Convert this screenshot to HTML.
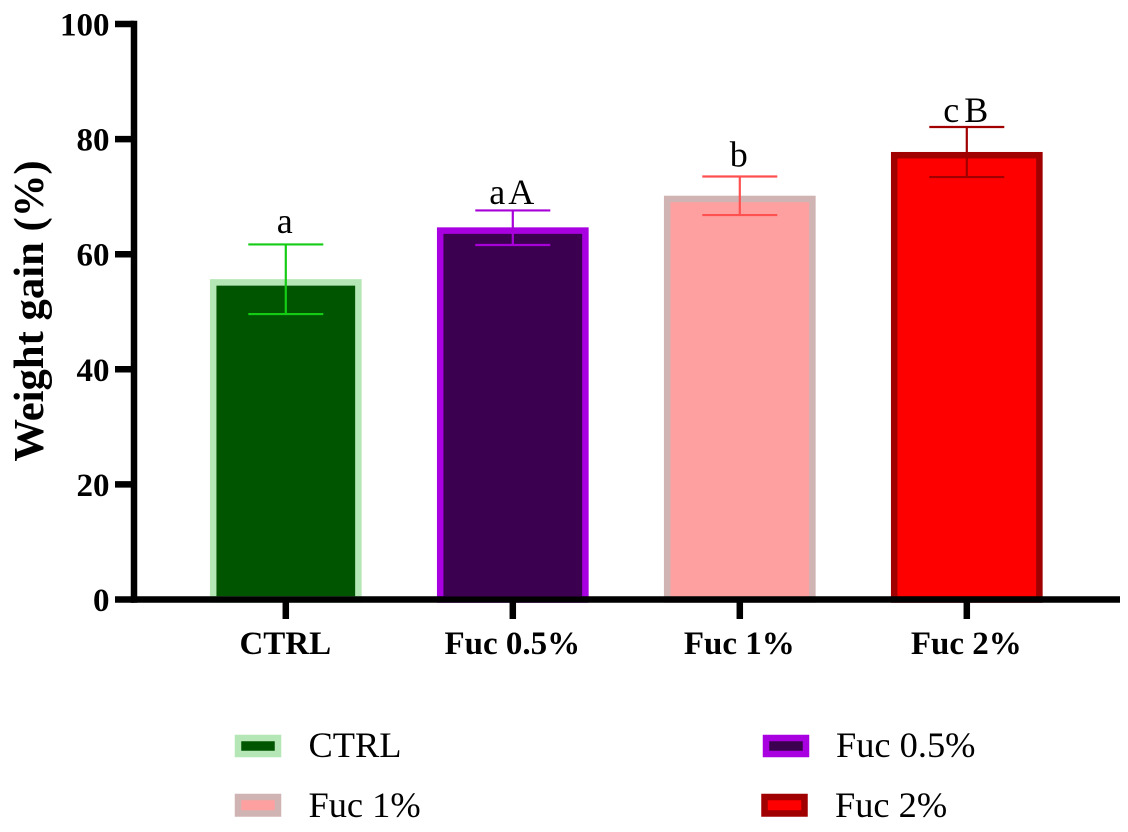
<!DOCTYPE html>
<html>
<head>
<meta charset="utf-8">
<style>
html,body{margin:0;padding:0;background:#fff;}
svg{display:block;font-family:"Liberation Serif",serif;}
</style>
</head>
<body>
<svg id="chart" xmlns="http://www.w3.org/2000/svg" width="1128" height="832" viewBox="0 0 1128 832">
<rect width="1128" height="832" fill="#ffffff"/>
<g id="marks"></g>
<g id="axes"></g>
<text transform="translate(43 311) rotate(-90)" text-anchor="middle" font-size="42.7" font-weight="700" fill="#000">Weight gain (%)</text>
<g>
  <g>
    <rect x="238" y="738" width="40" height="16" fill="#005500" stroke="#b5e6b5" stroke-width="6.5"/>
    <text x="308.5" y="757" font-size="36.4" fill="#000">CTRL</text>
  </g>
  <g>
    <rect x="766" y="738" width="40" height="16" fill="#3c0050" stroke="#a800e0" stroke-width="6.5"/>
    <text x="836" y="757" font-size="36.4" fill="#000">Fuc 0.5%</text>
  </g>
  <g>
    <rect x="238" y="797" width="40" height="16.5" fill="#ffa0a0" stroke="#d0b4b4" stroke-width="6.5"/>
    <text x="308.5" y="817" font-size="36.4" fill="#000">Fuc 1%</text>
  </g>
  <g>
    <rect x="764.5" y="797" width="40" height="16.5" fill="#ff0000" stroke="#a00000" stroke-width="6.5"/>
    <text x="835" y="817" font-size="36.4" fill="#000">Fuc 2%</text>
  </g>
</g>
</svg>
<script>
const categories = ['CTRL', 'Fuc 0.5%', 'Fuc 1%', 'Fuc 2%'];
const means = [55.1, 64.1, 69.6, 77.2];
const errorUpper = [61.7, 67.6, 73.5, 82.1];
const errorLower = [49.6, 61.6, 66.8, 73.4];
const annotations = ['a', 'a A', 'b', 'c B'];
const annotationLevels = [63.7, 68.7, 75.2, 83];
const yTicks = [0, 20, 40, 60, 80, 100];
const fills = ['#005500', '#3c0050', '#ffa0a0', '#ff0000'];
const strokes = ['#b5e6b5', '#a800e0', '#d0b4b4', '#a00000'];
const errorColors = ['#14cc14', '#a800d8', '#ff5050', '#a00000'];

const NS = 'http://www.w3.org/2000/svg';
function yScale(v) { return 599.5 - v * 5.755; }
function xScale(i) { return 285.8 + i * 227; }
function make(parent, tag, attrs, text) {
  const el = document.createElementNS(NS, tag);
  for (const k in attrs) el.setAttribute(k, attrs[k]);
  if (text !== undefined) el.textContent = text;
  parent.appendChild(el);
  return el;
}
const marks = document.getElementById('marks');
const axes = document.getElementById('axes');
const barHalf = 72.6, capHalf = 37.5;

categories.forEach(function (cat, i) {
  const cx = xScale(i);
  const bar = make(marks, 'rect', { x: cx - barHalf, y: yScale(means[i]), width: barHalf * 2, height: yScale(0) - yScale(means[i]), fill: fills[i], stroke: strokes[i], 'stroke-width': 6.5 });
  
  

  const stem = make(marks, 'line', { x1: cx, x2: cx, y1: yScale(errorUpper[i]), y2: yScale(errorLower[i]), stroke: errorColors[i], 'stroke-width': 2.2 });
  
  

  const capTop = make(marks, 'line', { x1: cx - capHalf, x2: cx + capHalf, y1: yScale(errorUpper[i]), y2: yScale(errorUpper[i]), stroke: errorColors[i], 'stroke-width': 2.2 });
  
  

  const capBottom = make(marks, 'line', { x1: cx - capHalf, x2: cx + capHalf, y1: yScale(errorLower[i]), y2: yScale(errorLower[i]), stroke: errorColors[i], 'stroke-width': 2.2 });
  
  

  const note = make(marks, 'text', { x: cx - 1, y: yScale(annotationLevels[i]), 'text-anchor': 'middle', 'font-size': 36, 'word-spacing': -4, fill: '#000' }, annotations[i]);
  
  

  const xTick = make(axes, 'line', { x1: cx, x2: cx, y1: yScale(0), y2: 619, stroke: '#000', 'stroke-width': 6.5 });
  
  

  const xLabel = make(axes, 'text', { x: cx - 0.5, y: 654, 'text-anchor': 'middle', 'font-size': 33, 'font-weight': 700, fill: '#000' }, cat);
  
  
});

yTicks.forEach(function (t) {
  const tick = make(axes, 'line', { x1: 115, x2: 134, y1: yScale(t), y2: yScale(t), stroke: '#000', 'stroke-width': 6.5 });
  
  

  const label = make(axes, 'text', { x: 109.5, y: yScale(t) + 11.5, 'text-anchor': 'end', 'font-size': 33, 'font-weight': 700, fill: '#000' }, String(t));
  
  
});

const yAxis = make(axes, 'line', { x1: 134, x2: 134, y1: yScale(100) - 3.25, y2: yScale(0) + 3.25, stroke: '#000', 'stroke-width': 6.5 });



const xAxis = make(axes, 'line', { x1: 130.75, x2: 1120, y1: yScale(0), y2: yScale(0), stroke: '#000', 'stroke-width': 6.5 });


</script>
</body>
</html>
